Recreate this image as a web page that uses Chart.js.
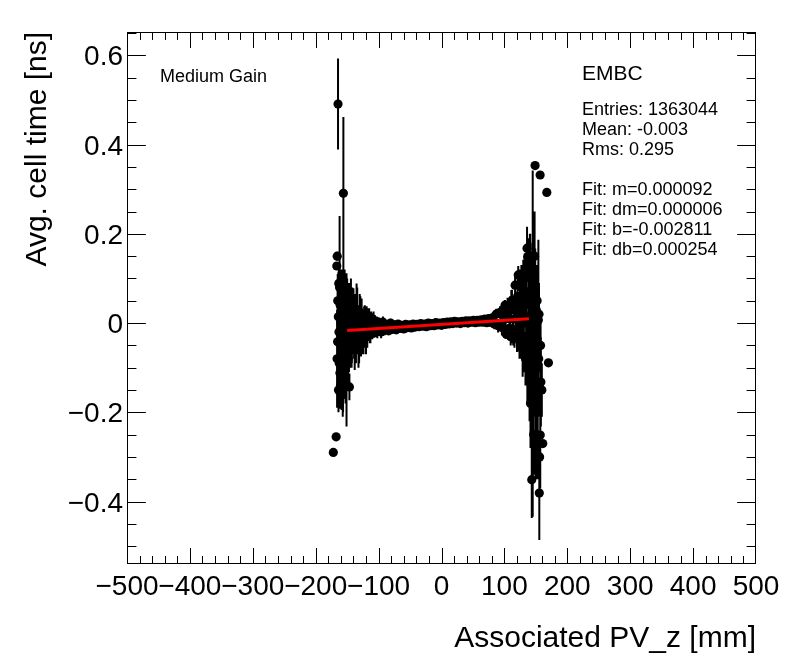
<!DOCTYPE html>
<html>
<head>
<meta charset="utf-8">
<script src="https://cdn.jsdelivr.net/npm/chart.js@4.4.1/dist/chart.umd.min.js"></script>
<style>
  html, body { margin: 0; padding: 0; background: #fff; }
  #wrap { width: 796px; height: 672px; position: relative; }
</style>
</head>
<body>
<div id="wrap"><canvas id="c"></canvas></div>
<script>
// ---- data ----
const pvz = [
  -172, -167.5, -166.5, -165.8, -165.2, -164.5, -164, -163.3, -162.5, -162, -161.5, -160.5, -160, -159, -158, -157, -156, -155, -154, -153, -152, -151, -150, -149, -148, -146.4, -146, -145, -144, -143, -142, -141, -140,
  -138, -135, -132, -129, -126, -123, -120, -117, -114, -111, -108, -105, -102, -99, -96, -93, -90, -87, -84, -81, -78, -75, -72, -69, -66, -63, -60, -57, -54, -51, -48, -45, -42, -39, -36, -33, -30, -27, -24, -21, -18, -15, -12, -9, -6, -3,
  0, 3, 6, 9, 12, 15, 18, 21, 24, 27, 30, 33, 36, 39, 42, 45, 48, 51, 54, 57, 60, 63, 66, 69, 72, 75, 78, 81, 84, 87, 90, 93, 96, 99, 102, 105, 108, 111, 114, 117,
  119, 120, 122, 123, 125, 126, 128, 130, 131, 133, 134.5, 136, 137, 138, 139.5, 141, 142, 143.5, 145, 146, 147, 148.8, 149, 150, 151.5, 152.5, 154, 155.5, 156.8, 157, 158, 159.5, 161, 167.4, 170
];
const avgTime = [
  -0.290, -0.255, 0.128, 0.150, -0.042, 0.491, 0.014, 0.089, -0.090, 0.080, -0.112, -0.140, 0.000, -0.050, 0.030, -0.060, 0.291, -0.020, 0.020, -0.040, 0.010, -0.060, 0.030, -0.050, 0.000, -0.143, 0.020, -0.030, 0.040, -0.040, 0.010, -0.020, 0.020,
  -0.040, 0.020, -0.040, 0.010, -0.030, 0.000, -0.030, 0.008, -0.020, 0.002, 0.006, -0.012, -0.018, -0.004, -0.020, 0.002, -0.015, -0.006, -0.017, 0.000, -0.014, -0.004, -0.015, -0.002, -0.012, -0.005, -0.013, -0.003, -0.010, -0.004, -0.011, -0.002, -0.009, -0.003, -0.008, -0.001, -0.007, -0.002, -0.008, 0.000, -0.006, -0.001, -0.006, 0.001, -0.004, 0.000,
  -0.005, 0.001, -0.003, 0.002, -0.002, 0.003, -0.001, 0.004, 0.000, 0.003, -0.001, 0.004, 0.001, 0.005, 0.000, 0.005, 0.002, 0.006, 0.001, 0.006, 0.002, 0.007, 0.002, 0.009, 0.001, 0.010, 0.002, 0.012, -0.002, 0.020, -0.006, 0.024, -0.010, 0.030, -0.015, 0.032, -0.012, 0.040, -0.020, 0.085,
  0.010, -0.020, 0.108, 0.000, 0.024, -0.030, 0.050, 0.022, -0.040, 0.060, -0.050, 0.168, 0.149, -0.080, 0.119, 0.040, 0.108, -0.351, -0.046, -0.120, 0.050, 0.353, 0.067, -0.200, 0.003, -0.150, 0.007, -0.381, 0.332, -0.251, -0.132, -0.150, -0.270, 0.293, -0.089
];
const avgTimeErr = [
  0, 0, 0.008, 0.010, 0.120, 0.102, 0.100, 0.030, 0.100, 0.160, 0.080, 0.050, 0.120, 0.145, 0.090, 0.150, 0.171, 0.110, 0.100, 0.120, 0.080, 0.172, 0.070, 0.070, 0.090, 0.030, 0.070, 0.070, 0.060, 0.060, 0.070, 0.050, 0.058,
  0.065, 0.069, 0.060, 0.050, 0.040, 0.037, 0.040, 0.025, 0.025, 0.020, 0.020, 0.018, 0.016, 0.015, 0.014, 0.013, 0.012, 0.011, 0.010, 0.010, 0.009, 0.009, 0.008, 0.008, 0.007, 0.007, 0.006, 0.006, 0.006, 0.005, 0.005, 0.005, 0.005, 0.004, 0.004, 0.004, 0.004, 0.004, 0.004, 0.004, 0.004, 0.004, 0.004, 0.004, 0.004, 0.004,
  0.004, 0.004, 0.004, 0.004, 0.004, 0.004, 0.004, 0.004, 0.004, 0.004, 0.004, 0.004, 0.005, 0.005, 0.005, 0.005, 0.005, 0.005, 0.006, 0.006, 0.006, 0.007, 0.007, 0.008, 0.008, 0.009, 0.010, 0.011, 0.012, 0.012, 0.015, 0.014, 0.018, 0.020, 0.020, 0.025, 0.028, 0.034, 0.030, 0.020,
  0.040, 0.045, 0.020, 0.060, 0.096, 0.050, 0.060, 0.120, 0.070, 0.070, 0.089, 0.048, 0.030, 0.100, 0.060, 0.160, 0.050, 0.086, 0.388, 0.150, 0.120, 0, 0.100, 0.150, 0.120, 0.190, 0.180, 0.105, 0, 0.120, 0.100, 0.060, 0, 0, 0
];

// additional fine bins in the noisy edge regions
const pvzFine = [
  -166, -165, -163.8, -163, -161, -159.5, -158.5, -157.5, -156.5, -155.5, -154.5, -153.5, -152.5, -151.5, -150.5, -149.5, -148.5, -147.5, -147, -145.5, -144.5, -143.5, -142.5, -141.5,
  -139, -137, -136, -134, -133, -131, -130, -128, -127, -125, -124, -122, -121, -119, -118, -116, -115, -113, -112, -110, -109, -107, -106, -104, -103, -101, -100,
  100, 101, 103, 104, 106, 107, 109, 110, 112, 113, 115, 116, 118, 121, 124, 127, 129, 132, 133.5, 135, 136.5, 138.5, 140, 140.5, 141.5, 142.5, 144, 144.5,
  146.5, 147.5, 148, 149.5, 150.5, 151, 152, 153, 154.5, 155, 156, 157.5
];
const avgTimeFine = [
  -0.080, 0.050, -0.150, -0.020, 0.040, -0.100, 0.060, -0.010, -0.120, 0.050, -0.080, 0.030, -0.100, 0.040, -0.020, 0.050, -0.080, 0.030, -0.060, 0.030, -0.050, 0.020, -0.050, 0.030,
  -0.020, 0.015, -0.045, 0.030, -0.020, -0.050, 0.025, -0.035, 0.020, -0.010, -0.040, 0.015, -0.025, 0.010, -0.030, -0.005, 0.015, -0.025, 0.008, -0.020, 0.005, -0.018, 0.004, -0.020, 0.003, -0.015, 0.002,
  0.010, 0.040, -0.025, 0.020, -0.020, 0.035, 0.010, -0.030, 0.050, -0.015, 0.030, -0.030, 0.040, 0.060, -0.040, 0.080, -0.060, 0.100, -0.080, 0.050, -0.100, 0.070, -0.120, 0.150, -0.180, 0.060, -0.150, 0.100,
  -0.250, -0.050, 0.150, -0.300, 0.030, -0.250, 0.050, -0.200, -0.080, 0.020, -0.300, -0.050
];
const avgTimeErrFine = [
  0.110, 0.060, 0.050, 0.130, 0.080, 0.090, 0.060, 0.120, 0.080, 0.070, 0.090, 0.060, 0.080, 0.050, 0.090, 0.040, 0.060, 0.060, 0.050, 0.050, 0.050, 0.060, 0.040, 0.040,
  0.060, 0.050, 0.045, 0.050, 0.050, 0.040, 0.040, 0.040, 0.035, 0.040, 0.030, 0.025, 0.030, 0.028, 0.025, 0.025, 0.018, 0.020, 0.018, 0.016, 0.015, 0.015, 0.014, 0.012, 0.012, 0.012, 0.010,
  0.020, 0.012, 0.010, 0.020, 0.018, 0.022, 0.050, 0.020, 0.025, 0.030, 0.030, 0.025, 0.030, 0.040, 0.040, 0.050, 0.060, 0.050, 0.060, 0.100, 0.080, 0.120, 0.100, 0.050, 0.100, 0.100, 0.150, 0.080,
  0.090, 0.150, 0.100, 0.050, 0.100, 0.090, 0.080, 0.150, 0.120, 0.070, 0.050, 0.060
];

const fitX = [-150, 139];
const fitY = [-0.0166, 0.0100];

const xTickValues = [-500, -400, -300, -200, -100, 0, 100, 200, 300, 400, 500];
const xTickLabels = ['\u2212500', '\u2212400', '\u2212300', '\u2212200', '\u2212100', '0', '100', '200', '300', '400', '500'];
const yTickValues = [-0.4, -0.2, 0, 0.2, 0.4, 0.6];
const yTickLabels = ['\u22120.4', '\u22120.2', '0', '0.2', '0.4', '0.6'];

const statLines = ['Entries: 1363044', 'Mean: -0.003', 'Rms: 0.295', '', 'Fit: m=0.000092', 'Fit: dm=0.000006', 'Fit: b=-0.002811', 'Fit: db=0.000254'];

const FONT = '"Liberation Sans", Arial, Helvetica, sans-serif';

const allX = pvz.concat(pvzFine);
const allY = avgTime.concat(avgTimeFine);
const allE = avgTimeErr.concat(avgTimeErrFine);

// ---- plugins ----
const errorBars = {
  id: 'errorBars',
  beforeDatasetsDraw(chart) {
    const { ctx, scales: { x, y } } = chart;
    ctx.save();
    ctx.strokeStyle = '#000';
    ctx.lineWidth = 2;
    ctx.beginPath();
    for (let i = 0; i < allX.length; i++) {
      if (!allE[i]) continue;
      const px = x.getPixelForValue(allX[i]);
      ctx.moveTo(px, y.getPixelForValue(allY[i] + allE[i]));
      ctx.lineTo(px, y.getPixelForValue(allY[i] - allE[i]));
    }
    ctx.stroke();
    ctx.restore();
  }
};

const frameAxes = {
  id: 'frameAxes',
  afterDraw(chart) {
    const { ctx, chartArea: a, scales: { x, y } } = chart;
    ctx.save();
    ctx.strokeStyle = '#000';
    ctx.fillStyle = '#000';
    ctx.lineWidth = 1;
    ctx.strokeRect(a.left + 0.5, a.top + 0.5, a.right - a.left - 1, a.bottom - a.top - 1);
    const H = a.bottom - a.top, W = a.right - a.left;
    const xMaj = H * 0.03, xMin = xMaj / 2, yMaj = W * 0.03, yMin = yMaj / 2;
    ctx.beginPath();
    for (let v = -480; v <= 480; v += 20) {
      const px = Math.round(x.getPixelForValue(v)) + 0.5;
      const len = (v % 100 === 0) ? xMaj : xMin;
      ctx.moveTo(px, a.bottom); ctx.lineTo(px, a.bottom - len);
      ctx.moveTo(px, a.top); ctx.lineTo(px, a.top + len);
    }
    for (let k = -10; k <= 13; k++) {
      const v = k * 0.05;
      if (v < y.min || v > y.max) continue;
      const py = Math.round(y.getPixelForValue(v)) + 0.5;
      const len = (k % 4 === 0) ? yMaj : yMin;
      ctx.moveTo(a.left, py); ctx.lineTo(a.left + len, py);
      ctx.moveTo(a.right, py); ctx.lineTo(a.right - len, py);
    }
    ctx.stroke();

    ctx.font = '28px ' + FONT;
    ctx.textAlign = 'center';
    ctx.textBaseline = 'alphabetic';
    xTickValues.forEach((v, i) => {
      ctx.fillText(xTickLabels[i], x.getPixelForValue(v), a.bottom + 31);
    });
    ctx.textAlign = 'right';
    yTickValues.forEach((v, i) => {
      ctx.fillText(yTickLabels[i], a.left - 4, y.getPixelForValue(v) + 10);
    });

    ctx.font = '30px ' + FONT;
    ctx.textAlign = 'right';
    ctx.fillText('Associated PV_z [mm]', a.right, 647);
    ctx.save();
    ctx.translate(46, a.top);
    ctx.rotate(-Math.PI / 2);
    ctx.textAlign = 'right';
    ctx.fillText('Avg. cell time [ns]', 0, 0);
    ctx.restore();

    ctx.textAlign = 'left';
    ctx.font = '18px ' + FONT;
    ctx.fillText('Medium Gain', 160, 82);
    ctx.font = '21px ' + FONT;
    ctx.fillText('EMBC', 582, 80);
    ctx.font = '18px ' + FONT;
    statLines.forEach((t, i) => { if (t) ctx.fillText(t, 582, 115 + i * 20); });
    ctx.restore();
  }
};

// ---- chart ----
const points = allX.map((v, i) => ({ x: v, y: allY[i] }));
const fitPts = fitX.map((v, i) => ({ x: v, y: fitY[i] }));

new Chart(document.getElementById('c'), {
  type: 'scatter',
  data: {
    datasets: [
      {
        label: 'fit',
        data: fitPts,
        showLine: true,
        borderColor: '#ff0000',
        borderWidth: 3,
        pointRadius: 0,
        order: 0
      },
      {
        label: 'profile',
        data: points,
        pointRadius: 4.6,
        pointBackgroundColor: '#000',
        pointBorderWidth: 0,
        order: 1
      }
    ]
  },
  options: {
    responsive: true,
    maintainAspectRatio: false,
    animation: false,
    devicePixelRatio: 1,
    layout: { padding: { left: 127, top: 32, right: 40, bottom: 108 } },
    plugins: { legend: { display: false }, tooltip: { enabled: false } },
    scales: {
      x: { type: 'linear', min: -500, max: 500, display: false },
      y: { type: 'linear', min: -0.54, max: 0.6525, display: false }
    }
  },
  plugins: [errorBars, frameAxes]
});
</script>
</body>
</html>
